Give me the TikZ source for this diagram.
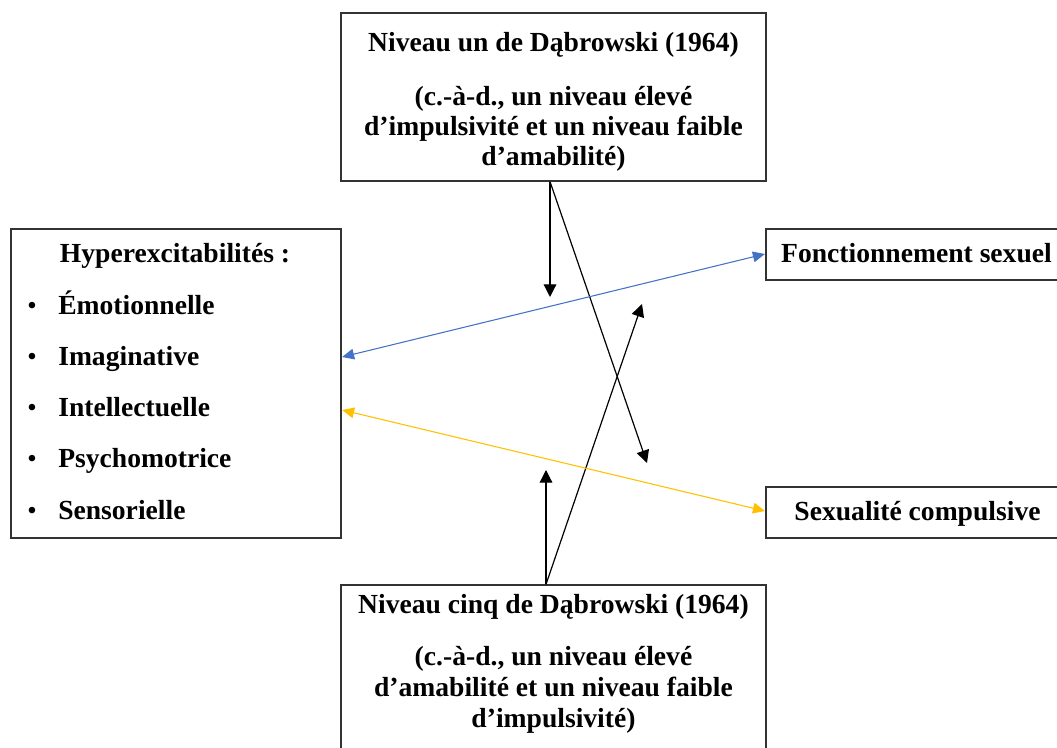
\documentclass[tikz,border=0pt]{standalone}
\usepackage{fontspec}
\setmainfont{Liberation Serif}
\usetikzlibrary{arrows.meta,calc}
\definecolor{officeblue}{HTML}{4472C4}
\definecolor{officegold}{HTML}{FFC000}
\begin{document}
\begin{tikzpicture}[x=0.75pt,y=-0.75pt,
  box/.style={draw=black!80,line width=0.9pt,rectangle,inner sep=0pt},
  txt/.style={inner sep=0pt,anchor=base,font=\fontsize{20.7}{23}\selectfont\bfseries},
  txtl/.style={txt,anchor=base west},
  dot/.style={txt,font=\fontsize{18}{20}\selectfont\bfseries},
  conn/.style={line width=0.9pt,-{Triangle[length=9.5pt,width=9.5pt]}},
  link/.style={line width=0.8pt,{Triangle[length=9pt,width=8pt]}-{Triangle[length=9pt,width=8pt]}}]
\useasboundingbox (0,0) rectangle (1057,748);
% boxes
\node[box,minimum width=318.75pt,minimum height=126pt] (top) at (553.5,97) {};
\node[box,minimum width=318.75pt,minimum height=126pt] (bot) at (553.5,669) {};
\node[box,minimum width=247.5pt,minimum height=231.75pt] (hyp) at (176,383.5) {};
\node[box,minimum width=226.5pt,minimum height=38.25pt] (fonc) at (917,254.5) {};
\node[box,minimum width=226.5pt,minimum height=38.25pt] (comp) at (917,512.5) {};
% texts top box
\node[txt] (t1) at (553.5,52) {Niveau un de Dąbrowski (1964)};
\node[txt] (t2) at (553.5,106) {(c.-à-d., un niveau élevé};
\node[txt] (t3) at (553.5,136) {d’impulsivité et un niveau faible};
\node[txt] (t4) at (553.5,166) {d’amabilité)};
% texts bottom box
\node[txt] (b1) at (553.5,613) {Niveau cinq de Dąbrowski (1964)};
\node[txt] (b2) at (553.5,665) {(c.-à-d., un niveau élevé};
\node[txt] (b3) at (553.5,696) {d’amabilité et un niveau faible};
\node[txt] (b4) at (553.5,727) {d’impulsivité)};
% left box
\node[txt] (h0) at (175,263) {Hyperexcitabilités :};
\node[dot] (d1) at (32,314) {•};
\node[dot] (d2) at (32,365) {•};
\node[dot] (d3) at (32,416) {•};
\node[dot] (d4) at (32,467) {•};
\node[dot] (d5) at (32,518) {•};
\node[txtl] (h1) at (58,315) {Émotionnelle};
\node[txtl] (h2) at (58,366) {Imaginative};
\node[txtl] (h3) at (58,417) {Intellectuelle};
\node[txtl] (h4) at (58,468) {Psychomotrice};
\node[txtl] (h5) at (58,519) {Sensorielle};
% right boxes
\node[txt] (f1) at (916.5,263) {Fonctionnement sexuel};
\node[txt] (c1) at (917.5,520) {Sexualité compulsive};
% connector end points
\coordinate (ts) at ($(top.south)+(-3.5,0)$);
\coordinate (bs) at ($(bot.north)+(-7.5,0)$);
\coordinate (e1) at (550,297);
\coordinate (e2) at (647,463);
\coordinate (e3) at (546,470);
\coordinate (e4) at (642,304);
\coordinate (hb) at ($(hyp.east)+(0.5,-26.5)$);
\coordinate (hy) at ($(hyp.east)+(0.5,26.5)$);
\coordinate (fb) at ($(fonc.west)+(-0.5,-0.5)$);
\coordinate (cy) at ($(comp.west)+(-0.5,-1.5)$);
% connectors
\draw[conn] (ts) -- (e1);
\draw[conn] (ts) -- (e2);
\draw[conn] (bs) -- (e3);
\draw[conn] (bs) -- (e4);
\draw[link,officeblue] (hb) -- (fb);
\draw[link,officegold] (hy) -- (cy);
\end{tikzpicture}
\end{document}
